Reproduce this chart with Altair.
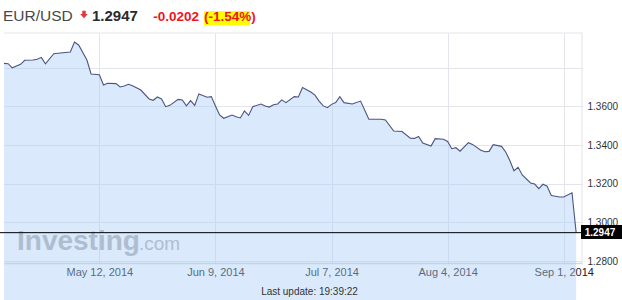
import altair as alt
import pandas as pd

# ---------------- data ----------------
dates = [
    "2014-04-19", "2014-04-20", "2014-04-21", "2014-04-23", "2014-04-24", "2014-04-26",
    "2014-04-27", "2014-04-28", "2014-04-29", "2014-05-01", "2014-05-02", "2014-05-05",
    "2014-05-06", "2014-05-07", "2014-05-09", "2014-05-10", "2014-05-12", "2014-05-13",
    "2014-05-14", "2014-05-16", "2014-05-17", "2014-05-18", "2014-05-19", "2014-05-20",
    "2014-05-22", "2014-05-24", "2014-05-25", "2014-05-26", "2014-05-27", "2014-05-28",
    "2014-05-29", "2014-05-31", "2014-06-01", "2014-06-02", "2014-06-03", "2014-06-04",
    "2014-06-05", "2014-06-07", "2014-06-08", "2014-06-09", "2014-06-10", "2014-06-11",
    "2014-06-13", "2014-06-14", "2014-06-15", "2014-06-16", "2014-06-17", "2014-06-18",
    "2014-06-20", "2014-06-21", "2014-06-22", "2014-06-23", "2014-06-24", "2014-06-25",
    "2014-06-26", "2014-06-28", "2014-06-29", "2014-06-30", "2014-07-02", "2014-07-03",
    "2014-07-04", "2014-07-05", "2014-07-06", "2014-07-07", "2014-07-08", "2014-07-09",
    "2014-07-10", "2014-07-12", "2014-07-14", "2014-07-16", "2014-07-19", "2014-07-20",
    "2014-07-22", "2014-07-24", "2014-07-26", "2014-07-27", "2014-07-28", "2014-07-29",
    "2014-07-31", "2014-08-01", "2014-08-03", "2014-08-04", "2014-08-05", "2014-08-06",
    "2014-08-07", "2014-08-09", "2014-08-10", "2014-08-12", "2014-08-13", "2014-08-14",
    "2014-08-15", "2014-08-17", "2014-08-18", "2014-08-19", "2014-08-20", "2014-08-21",
    "2014-08-22", "2014-08-24", "2014-08-25", "2014-08-26", "2014-08-27", "2014-08-28",
    "2014-08-29", "2014-08-31", "2014-09-01", "2014-09-03", "2014-09-04",
]
rates = [
    1.3822, 1.3820, 1.3799, 1.3817, 1.3838, 1.3839,
    1.3843, 1.3853, 1.3820, 1.3872, 1.3874, 1.3881,
    1.3932, 1.3917, 1.3839, 1.3767, 1.3763, 1.3710,
    1.3719, 1.3717, 1.3700, 1.3705, 1.3714, 1.3706,
    1.3684, 1.3638, 1.3631, 1.3648, 1.3638, 1.3598,
    1.3605, 1.3636, 1.3633, 1.3602, 1.3629, 1.3605,
    1.3664, 1.3647, 1.3650, 1.3602, 1.3555, 1.3538,
    1.3555, 1.3546, 1.3540, 1.3576, 1.3553, 1.3598,
    1.3612, 1.3602, 1.3596, 1.3608, 1.3612, 1.3633,
    1.3619, 1.3650, 1.3648, 1.3697, 1.3674, 1.3658,
    1.3627, 1.3602, 1.3593, 1.3610, 1.3619, 1.3650,
    1.3619, 1.3612, 1.3627, 1.3533, 1.3533, 1.3529,
    1.3472, 1.3470, 1.3435, 1.3434, 1.3444, 1.3410,
    1.3395, 1.3433, 1.3430, 1.3418, 1.3381, 1.3386,
    1.3368, 1.3412, 1.3403, 1.3373, 1.3365, 1.3367,
    1.3402, 1.3393, 1.3364, 1.3320, 1.3267, 1.3285,
    1.3245, 1.3204, 1.3198, 1.3174, 1.3197, 1.3187,
    1.3139, 1.3131, 1.3131, 1.3153, 1.2947,
]
x_tick_dates = [(2014, 5, 12), (2014, 6, 9), (2014, 7, 7), (2014, 8, 4), (2014, 9, 1)]
y_ticks = [1.28, 1.30, 1.32, 1.34, 1.36, 1.38]
pair_name = "EUR/USD"
last_rate = 1.2947
change_abs = "-0.0202"
change_pct = "(-1.54%)"
update_text = "Last update: 19:39:22"
watermark_main = "Investing"
watermark_tail = ".com"

# ---------------- styling ----------------
W, H = 578, 230
FONT = "Liberation Sans"
GRID = "#e3e4ec"
RED = "#f0141e"

df = pd.DataFrame({"date": dates, "rate": rates})
one = alt.Data(values=[{"k": 0}])

x_scale = alt.Scale(
    type="utc",
    domain=[
        alt.DateTime(year=2014, month=4, date=19, utc=True),
        alt.DateTime(year=2014, month=9, date=5, hours=9, minutes=50, utc=True),
    ],
)
y_scale = alt.Scale(domain=[1.27902, 1.39788], zero=False, nice=False)

x_axis = alt.Axis(
    values=[alt.DateTime(year=y, month=m, date=d, utc=True) for (y, m, d) in x_tick_dates],
    format="%b %-d, %Y",
    title=None,
    grid=True,
    gridColor=GRID,
    gridWidth=1,
    ticks=False,
    domain=True,
    domainColor="#d6d8de",
    domainWidth=1.5,
    labelFont=FONT,
    labelFontSize=11,
    labelColor="#222222",
    labelPadding=3,
    labelFlush=False,
)
y_axis = alt.Axis(
    orient="right",
    values=y_ticks,
    labelExpr="datum.value > 1.37 ? '' : format(datum.value, '.4f')",
    title=None,
    grid=True,
    gridColor=GRID,
    gridWidth=1,
    ticks=False,
    domain=False,
    labelFont=FONT,
    labelFontSize=10,
    labelColor="#333333",
    labelPadding=5,
    labelFlush=False,
)

X = alt.X("date:T", scale=x_scale, axis=x_axis)
Y = alt.Y("rate:Q", scale=y_scale, axis=y_axis)
Y_last = alt.Y(datum=last_rate, type="quantitative", scale=y_scale, axis=y_axis)

area = alt.Chart(df).mark_area(color="#a8cdf8", opacity=0.42).encode(
    x=X, y=Y, y2=alt.value(H)
)
line = alt.Chart(df).mark_line(color="#4b5580", strokeWidth=1.1).encode(x=X, y=Y)

top_border = alt.Chart(one).mark_rule(color=GRID).encode(
    x=alt.value(0), x2=alt.value(W), y=alt.value(0)
)
right_border = alt.Chart(one).mark_rule(color=GRID).encode(
    x=alt.value(W), y=alt.value(0), y2=alt.value(H)
)

wm1 = alt.Chart(one).mark_text(
    font=FONT, fontSize=28, fontWeight="bold", color="#afbdd0", align="left", baseline="alphabetic"
).encode(x=alt.value(13), y=alt.value(217), text=alt.value(watermark_main))
wm2 = alt.Chart(one).mark_text(
    font=FONT, fontSize=19, color="#afbdd0", align="left", baseline="alphabetic"
).encode(x=alt.value(135), y=alt.value(217), text=alt.value(watermark_tail))

last_rule = alt.Chart(one).mark_rule(color="black", strokeWidth=1).encode(
    y=Y_last, x=alt.value(-4), x2=alt.value(W)
)
last_box = alt.Chart(one).mark_rect(color="black").encode(
    x=alt.value(577), x2=alt.value(618), y=alt.value(192), y2=alt.value(206)
)
last_text = alt.Chart(one).mark_text(
    font=FONT, fontSize=10, fontWeight="bold", color="white", align="center", baseline="middle"
).encode(x=alt.value(596), y=Y_last, text=alt.value(f"{last_rate:.4f}"))

t_pair = alt.Chart(one).mark_text(
    font=FONT, fontSize=15.5, color="#474747", align="left", baseline="alphabetic"
).encode(x=alt.value(-1), y=alt.value(-12.3), text=alt.value(pair_name))
arrow_path = "M-0.45,-1 L0.45,-1 L0.45,-0.15 L1,-0.15 L0,1 L-1,-0.15 L-0.45,-0.15 Z"
t_arrow = alt.Chart(one).mark_point(
    shape=arrow_path, filled=True, color="#e03a3a", opacity=1, size=60, strokeWidth=0
).encode(x=alt.value(80), y=alt.value(-18.5))
t_rate = alt.Chart(one).mark_text(
    font=FONT, fontSize=15, fontWeight="bold", color="#2b2b2b", align="left", baseline="alphabetic"
).encode(x=alt.value(88), y=alt.value(-12.3), text=alt.value(f"{last_rate:.4f}"))
t_chg = alt.Chart(one).mark_text(
    font=FONT, fontSize=13.5, fontWeight="bold", color=RED, align="left", baseline="alphabetic"
).encode(x=alt.value(149.3), y=alt.value(-12.3), text=alt.value(change_abs))
hl = alt.Chart(one).mark_rect(color="#ffff00").encode(
    x=alt.value(200), x2=alt.value(246), y=alt.value(-22), y2=alt.value(-8)
)
t_pct = alt.Chart(one).mark_text(
    font=FONT, fontSize=13.5, fontWeight="bold", color=RED, align="left", baseline="alphabetic"
).encode(x=alt.value(200), y=alt.value(-12.3), text=alt.value(change_pct))
t_upd = alt.Chart(one).mark_text(
    font=FONT, fontSize=10, color="#333333", align="center", baseline="middle"
).encode(x=alt.value(305.5), y=alt.value(258.7), text=alt.value(update_text))

chart = alt.layer(
    area, wm1, wm2, line, top_border, right_border, last_rule, last_box, last_text,
    t_pair, t_arrow, t_rate, t_chg, hl, t_pct, t_upd,
).properties(
    width=W,
    height=H,
    autosize=alt.AutoSizeParams(type="none"),
    padding={"left": 4, "top": 33, "right": 40, "bottom": 37},
    background="white",
).configure_view(stroke=None)

chart.save("out.html", embed_options={"renderer": "svg", "actions": False})
